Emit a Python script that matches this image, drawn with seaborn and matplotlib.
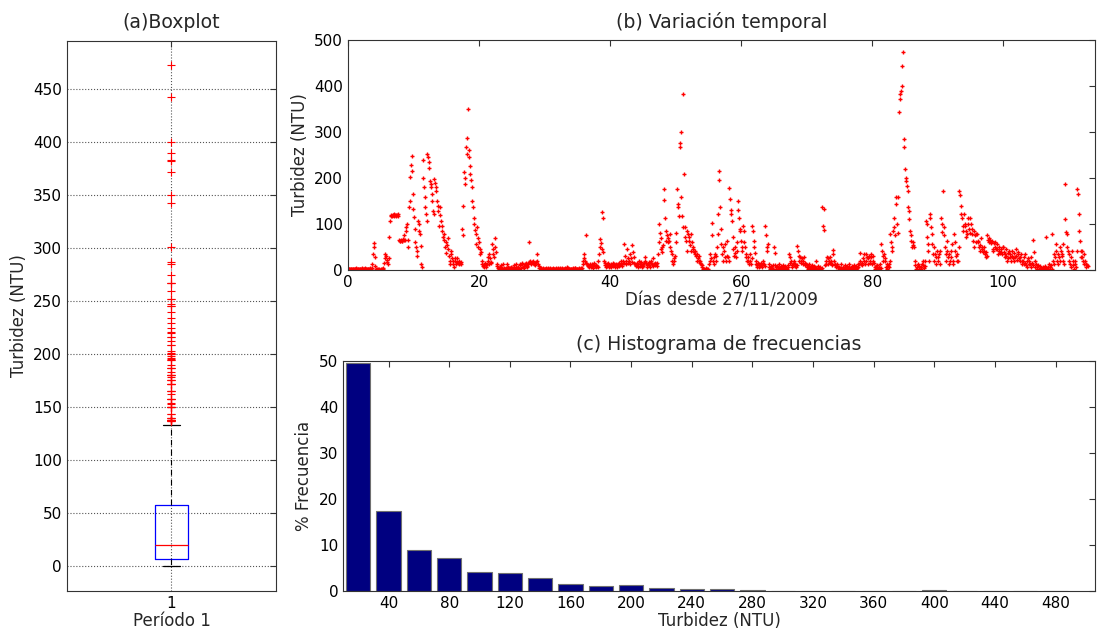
import numpy as np
import pandas as pd
import matplotlib
matplotlib.use("Agg")
import matplotlib.pyplot as plt
import seaborn as sns

# ---------------- data (turbidity, NTU), one row = one day, 10 samples/day
PASO_DIAS = 0.1

turb_dias_00_19 = [
    2,3,2,3,3,2,3,2,3,3,
    3,2,3,4,3,2,3,3,2,3,
    3,4,3,2,3,3,4,3,2,3,
    3,2,3,3,4,3,5,12,35,58,
    50,28,8,3,2,1,2,1,2,1,
    2,1,2,3,5,15,25,35,30,22,
    18,14,25,72,106,118,120,117,119,120,
    121,118,120,119,117,120,122,118,65,64,
    62,66,64,63,67,65,75,66,85,94,
    100,50,65,138,150,203,229,247,216,165,
    132,115,90,60,50,42,31,107,100,85,
    78,53,13,6,240,200,180,158,138,122,
    107,252,245,234,221,194,187,180,165,150,
    129,122,198,190,180,172,150,140,129,96,
    138,120,107,96,85,71,78,65,49,38,
    60,55,45,70,30,20,13,42,35,27,
    20,13,6,27,20,13,18,25,15,13,
    20,15,18,13,89,75,140,212,200,187,
    267,252,287,350,260,245,225,209,195,180,
    150,138,114,100,86,78,56,93,70,50,
]
turb_dias_20_39 = [
    60,45,35,40,20,13,8,6,10,15,
    10,6,12,28,20,13,35,25,18,15,
    56,45,35,28,70,50,40,12,8,5,
    5,3,6,2,10,4,3,12,4,2,
    3,5,5,12,2,6,4,4,3,7,
    5,2,5,4,10,3,6,12,5,3,
    6,3,10,14,5,15,12,6,4,8,
    12,15,10,8,6,12,18,60,20,15,
    13,18,20,15,12,10,15,18,20,35,
    12,8,5,4,3,4,2,3,4,2,
    3,2,4,3,2,3,5,3,2,4,
    2,3,2,4,3,2,3,2,4,3,
    3,4,2,3,5,3,2,4,3,2,
    2,3,4,2,3,6,4,3,2,3,
    3,2,3,4,2,3,5,4,3,2,
    3,2,4,3,3,4,2,5,13,20,
    25,35,20,15,76,13,8,10,6,12,
    10,6,8,12,5,10,15,8,6,10,
    8,6,20,35,50,67,58,45,125,112,
    40,20,15,10,6,12,8,15,10,6,
]
turb_dias_40_59 = [
    8,12,6,10,15,8,12,6,10,14,
    10,6,12,15,8,10,20,12,8,15,
    20,15,56,30,20,13,45,25,15,20,
    35,13,25,18,54,40,28,15,12,8,
    10,15,6,12,20,8,13,18,10,6,
    12,8,15,20,28,15,10,6,13,18,
    10,6,15,20,12,8,25,13,10,15,
    12,8,15,35,60,100,80,45,70,50,
    40,55,176,153,114,85,64,75,70,60,
    64,78,50,42,20,35,13,25,20,30,
    60,80,176,143,137,118,275,267,301,158,
    118,93,383,209,93,71,64,42,85,78,
    71,64,55,42,78,60,50,45,40,35,
    42,30,20,35,25,20,30,15,20,13,
    10,6,3,2,0,1,3,5,2,1,
    2,13,20,35,27,102,75,20,13,28,
    35,20,30,50,78,122,216,196,138,90,
    56,35,20,49,42,28,56,20,64,30,
    28,20,178,154,131,122,107,71,45,30,
    38,49,28,42,60,150,130,114,90,85,
]
turb_dias_60_79 = [
    64,49,42,96,85,60,49,35,28,20,
    28,20,13,35,20,13,25,96,85,64,
    49,38,20,13,6,10,15,6,13,8,
    10,15,6,12,20,13,8,96,75,50,
    42,56,13,6,3,8,2,5,10,3,
    49,38,10,6,3,8,2,6,12,5,
    3,8,2,6,10,4,3,8,2,5,
    3,6,10,35,28,15,20,10,6,13,
    15,20,8,13,6,10,52,42,30,20,
    28,20,15,25,13,20,28,15,10,13,
    10,6,3,8,13,5,2,6,10,4,
    3,8,2,6,20,4,3,8,2,5,
    3,6,2,4,137,95,87,133,10,13,
    20,28,13,25,20,15,28,20,13,10,
    43,35,20,13,10,6,13,8,6,3,
    6,4,13,5,3,6,2,4,10,6,
    2,4,8,2,6,13,3,5,2,8,
    4,2,6,10,3,8,2,5,13,6,
    13,37,20,13,15,10,25,20,35,13,
    20,35,28,13,25,30,15,20,35,28,
]
turb_dias_80_99 = [
    13,20,30,15,6,2,8,4,10,2,
    6,3,13,4,56,42,30,20,35,25,
    20,6,13,3,8,13,6,20,78,60,
    42,50,85,93,114,75,158,143,100,80,
    158,343,372,382,390,400,443,473,285,267,
    220,201,194,183,172,137,129,111,85,75,
    64,49,55,60,49,20,10,3,0,6,
    13,3,8,0,2,6,13,20,10,4,
    8,20,107,100,71,56,42,20,122,114,
    93,78,56,35,20,49,35,28,13,42,
    28,20,35,13,42,114,100,82,172,75,
    93,49,35,20,64,42,28,13,35,20,
    42,28,56,20,13,78,60,42,30,20,
    35,20,50,172,162,140,122,114,96,85,
    122,100,96,85,71,78,114,100,90,80,
    114,100,90,78,64,49,85,75,60,78,
    78,64,60,50,42,55,70,49,45,40,
    49,42,35,28,40,30,75,65,60,70,
    65,60,58,62,45,42,59,60,50,45,
    56,45,35,50,42,38,45,40,35,49,
]
turb_dias_100_112 = [
    49,40,35,28,45,30,20,38,25,42,
    35,28,20,42,30,25,38,20,28,45,
    30,22,40,35,25,20,28,35,20,13,
    20,13,28,35,15,10,20,6,25,13,
    20,13,6,28,15,10,65,40,20,6,
    13,6,3,10,0,2,8,4,1,3,
    2,6,0,3,8,72,4,1,6,2,
    13,3,6,10,2,78,20,13,35,28,
    56,42,20,35,13,28,49,20,42,30,
    35,20,56,13,187,111,82,78,49,42,
    35,20,13,6,28,42,20,10,3,13,
    20,6,42,176,165,122,85,64,42,28,
    42,28,20,13,35,20,13,6,10,8,
]

# histogram (percentage frequency per 20 NTU class)
hist_turbidez = [20, 40, 60, 80, 100, 120, 140, 160, 180, 200, 220, 240,
                 260, 280, 300, 320, 340, 360, 380, 400, 420, 440, 460, 480]
hist_porcentaje = [49.6, 17.35, 9.0, 7.2, 4.15, 4.0, 2.85, 1.45, 1.17, 1.3, 0.73, 0.45,
                   0.35, 0.22, 0.08, 0.08, 0.0, 0.08, 0.08, 0.2, 0.0, 0.0, 0.05, 0.05]

titulos = ["(a)Boxplot", "(b) Variación temporal", "(c) Histograma de frecuencias"]

# ---------------- build
turbidez = np.array(turb_dias_00_19 + turb_dias_20_39 + turb_dias_40_59 +
                    turb_dias_60_79 + turb_dias_80_99 + turb_dias_100_112, dtype=float)
dias = np.arange(len(turbidez)) * PASO_DIAS
df = pd.DataFrame({"dias": dias, "turbidez": turbidez})
dfh = pd.DataFrame({"clase": hist_turbidez, "porc": hist_porcentaje})

sns.set_style("white")
plt.rcParams["font.family"] = ["DejaVu Sans"]
plt.rcParams["axes.edgecolor"] = "#333333"
plt.rcParams["axes.linewidth"] = 0.8

fig = plt.figure(figsize=(10.98, 6.32), dpi=100)
ax_box = fig.add_axes([0.0610, 0.0649, 0.1903, 0.8703])
ax_ts = fig.add_axes([0.3169, 0.5728, 0.6803, 0.3639])
ax_h = fig.add_axes([0.3124, 0.0649, 0.6849, 0.3639])

TICK = 11
LAB = 12
TIT = 13.6

# (a) boxplot
sns.boxplot(data=df, y="turbidez", ax=ax_box, width=0.16, fill=False, whis=1.5,
            boxprops=dict(color="blue", linewidth=0.9),
            medianprops=dict(color="red", linewidth=0.9),
            whiskerprops=dict(color="black", linestyle=(0, (5, 4)), linewidth=0.8),
            capprops=dict(color="black", linewidth=0.9),
            flierprops=dict(marker="+", markeredgecolor="red", markerfacecolor="red",
                            markersize=6, markeredgewidth=0.8))
ax_box.set_xlim(-0.5, 0.5)
ax_box.set_ylim(-23.6, 495.6)
ax_box.set_yticks(range(0, 451, 50))
ax_box.set_xticks([0])
ax_box.set_xticklabels(["1"])
ax_box.grid(True, linestyle=":", color="#555555", linewidth=0.8)
ax_box.set_axisbelow(True)
ax_box.set_xlabel("Período 1", fontsize=LAB, labelpad=1)
ax_box.set_ylabel("Turbidez (NTU)", fontsize=LAB, labelpad=4)
ax_box.set_title(titulos[0], fontsize=TIT, pad=9)

# (b) time series
sns.scatterplot(data=df, x="dias", y="turbidez", ax=ax_ts, marker="+", color="red",
                s=11, linewidth=1.0)
ax_ts.set_xlim(0, 114)
ax_ts.set_ylim(0, 500)
ax_ts.set_xticks(range(0, 101, 20))
ax_ts.set_yticks(range(0, 501, 100))
ax_ts.set_xlabel("Días desde 27/11/2009", fontsize=LAB, labelpad=1)
ax_ts.set_ylabel("Turbidez (NTU)", fontsize=LAB, labelpad=4)
ax_ts.set_title(titulos[1], fontsize=TIT, pad=9)

# (c) histogram
sns.barplot(data=dfh, x="clase", y="porc", ax=ax_h, native_scale=True, width=0.8,
            color="#000080", saturation=1, edgecolor="#707070", linewidth=0.8,
            errorbar=None)
ax_h.set_xlim(10, 506)
ax_h.set_ylim(0, 50)
ax_h.set_xticks(range(40, 481, 40))
ax_h.set_yticks(range(0, 51, 10))
ax_h.set_xlabel("Turbidez (NTU)", fontsize=LAB, labelpad=1)
ax_h.set_ylabel("% Frecuencia", fontsize=LAB, labelpad=4)
ax_h.set_title(titulos[2], fontsize=TIT, pad=8)

for ax in (ax_box, ax_ts, ax_h):
    ax.tick_params(direction="in", length=4, width=0.8, top=True, right=True,
                   labelsize=TICK, color="#333333", labelcolor="black")
    for s in ax.spines.values():
        s.set_visible(True)
        s.set_color("#333333")

fig.savefig("out.png", dpi=100)
